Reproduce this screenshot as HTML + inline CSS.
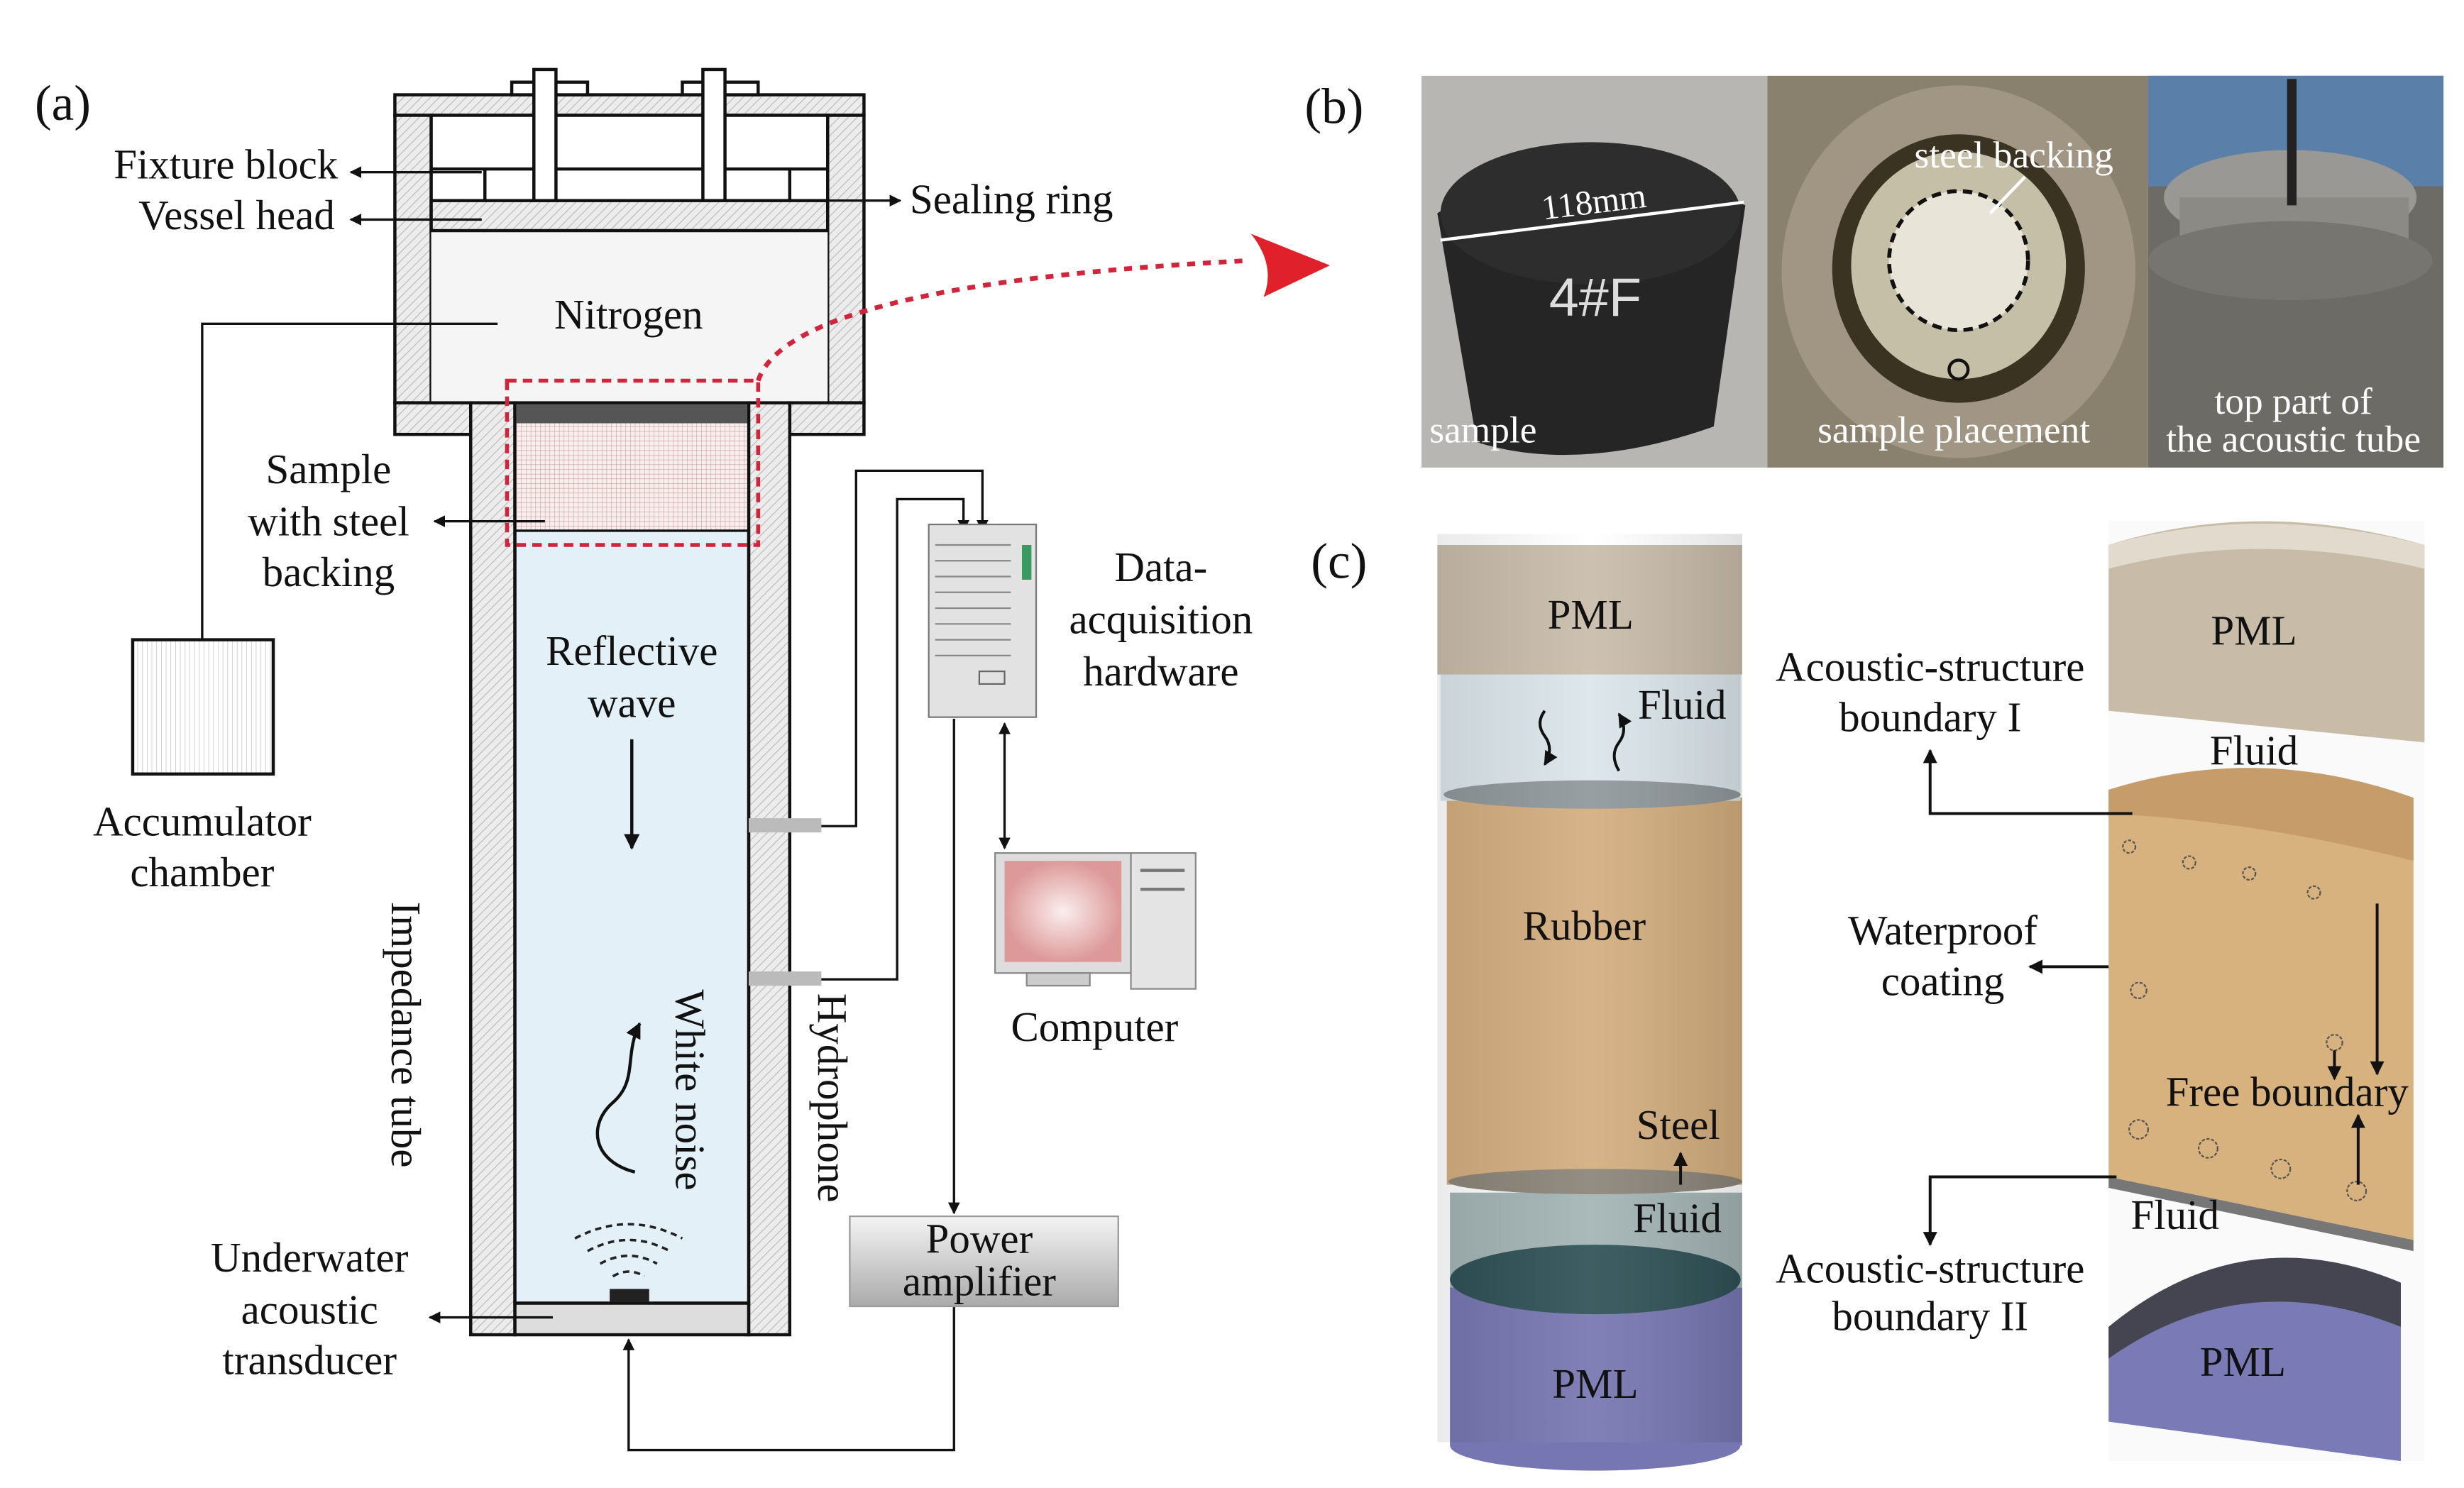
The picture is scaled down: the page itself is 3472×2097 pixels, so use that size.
<!DOCTYPE html>
<html><head><meta charset="utf-8"><style>
html,body{margin:0;padding:0;background:#fff}
svg{display:block}
text{font-family:"Liberation Serif",serif;fill:#111}
</style></head><body>
<svg width="3472" height="2097" viewBox="0 0 1560 942" preserveAspectRatio="none" xmlns="http://www.w3.org/2000/svg">
<defs>
<pattern id="h" width="4" height="4" patternUnits="userSpaceOnUse" patternTransform="rotate(45)">
<rect width="4" height="4" fill="#ececec"/><line x1="0" y1="0" x2="0" y2="4" stroke="#b8b8b8" stroke-width="1"/></pattern>
<pattern id="g" width="3" height="3" patternUnits="userSpaceOnUse">
<rect width="3" height="3" fill="#f7eeee"/><path d="M0 0H3M0 0V3" stroke="#c99" stroke-width="0.5"/></pattern>
<pattern id="v" width="3" height="3" patternUnits="userSpaceOnUse">
<rect width="3" height="3" fill="#fff"/><line x1="0" y1="0" x2="0" y2="3" stroke="#bbb" stroke-width="0.6"/></pattern>
<marker id="a" viewBox="0 0 10 10" refX="9" refY="5" markerWidth="5" markerHeight="5" orient="auto-start-reverse"><path d="M0 0L10 5L0 10z" fill="#111"/></marker>
<linearGradient id="pa" x1="0" y1="0" x2="0" y2="1"><stop offset="0" stop-color="#f4f4f4"/><stop offset="1" stop-color="#aaa"/></linearGradient>
<radialGradient id="mon"><stop offset="0" stop-color="#fbeeee"/><stop offset="1" stop-color="#d99"/></radialGradient>
<linearGradient id="cyl" x1="0" x2="1"><stop offset="0" stop-color="#000" stop-opacity=".08"/><stop offset=".5" stop-color="#fff" stop-opacity=".08"/><stop offset="1" stop-color="#000" stop-opacity=".12"/></linearGradient>
</defs>

<g font-size="26.5">
<!-- Panel a -->
<text x="22" y="76" font-size="32">(a)</text>
<rect x="250" y="60" width="297" height="13" fill="url(#h)" stroke="#111" stroke-width="2"/>
<rect x="250" y="73" width="23" height="182" fill="url(#h)" stroke="#111" stroke-width="2"/>
<rect x="524" y="73" width="23" height="182" fill="url(#h)" stroke="#111" stroke-width="2"/>
<rect x="273" y="73" width="251" height="182" fill="#fff" stroke="#111" stroke-width="2"/>
<rect x="273" y="146" width="251" height="109" fill="#f5f5f5"/>
<rect x="273" y="127" width="251" height="19" fill="url(#h)" stroke="#111" stroke-width="2"/>
<line x1="273" y1="107" x2="524" y2="107" stroke="#111" stroke-width="2"/>
<line x1="307" y1="107" x2="307" y2="127" stroke="#111" stroke-width="2"/>
<line x1="500" y1="107" x2="500" y2="127" stroke="#111" stroke-width="2"/>
<rect x="250" y="255" width="48" height="20" fill="url(#h)" stroke="#111" stroke-width="2"/>
<rect x="500" y="255" width="47" height="20" fill="url(#h)" stroke="#111" stroke-width="2"/>
<g fill="#fff" stroke="#111" stroke-width="2">
<rect x="324" y="52" width="48" height="8"/><rect x="338" y="44" width="14" height="83"/>
<rect x="432" y="52" width="48" height="8"/><rect x="445" y="44" width="14" height="83"/>
</g>
<text x="398" y="208" text-anchor="middle">Nitrogen</text>
<rect x="298" y="255" width="28" height="590" fill="url(#h)" stroke="#111" stroke-width="2"/>
<rect x="474" y="255" width="26" height="590" fill="url(#h)" stroke="#111" stroke-width="2"/>
<rect x="326" y="255" width="148" height="570" fill="#e4f0f7" stroke="#111" stroke-width="2"/>
<rect x="327" y="256" width="146" height="12" fill="#555"/>
<rect x="327" y="268" width="146" height="68" fill="url(#g)"/>
<line x1="326" y1="336" x2="474" y2="336" stroke="#111" stroke-width="1.5"/>
<rect x="326" y="825" width="148" height="20" fill="#ddd" stroke="#111" stroke-width="2"/>
<rect x="386" y="816" width="25" height="8" fill="#222"/>
<g fill="none" stroke="#222" stroke-width="1.6" stroke-dasharray="4 3">
<path d="M388 808 Q398 802 408 808"/><path d="M380 800 Q398 790 416 800"/><path d="M372 792 Q398 778 424 792"/><path d="M364 784 Q398 766 432 784"/>
</g>
<rect x="321" y="241" width="159" height="104" fill="none" stroke="#d0253a" stroke-width="2.5" stroke-dasharray="6 4"/>
<path d="M480 241 Q500 180 790 165" fill="none" stroke="#d0253a" stroke-width="3" stroke-dasharray="5 5"/>
<path d="M792 148 L842 168 L800 188 Q808 168 792 148z" fill="#e0202a"/>
<text x="400" y="421" text-anchor="middle">Reflective</text>
<text x="400" y="454" text-anchor="middle">wave</text>
<line x1="400" y1="468" x2="400" y2="537" stroke="#111" stroke-width="2" marker-end="url(#a)"/>
<path d="M402 742 C375 735 372 712 388 698 C404 684 395 668 405 648" fill="none" stroke="#111" stroke-width="2" marker-end="url(#a)"/>
<text transform="translate(428,690) rotate(90)" text-anchor="middle">White noise</text>
<text transform="translate(248,655) rotate(90)" text-anchor="middle">Impedance tube</text>
<text transform="translate(518,695) rotate(90)" text-anchor="middle">Hydrophone</text>
<rect x="474" y="518" width="46" height="9" fill="#bbb"/>
<rect x="474" y="615" width="46" height="9" fill="#bbb"/>
<g fill="none" stroke="#111" stroke-width="1.5">
<polyline points="520,523 542,523 542,298 622,298 622,336" marker-end="url(#a)"/>
<polyline points="520,620 568,620 568,316 610,316 610,336" marker-end="url(#a)"/>
<line x1="604" y1="455" x2="604" y2="768" marker-end="url(#a)"/>
<line x1="636" y1="458" x2="636" y2="537" marker-start="url(#a)" marker-end="url(#a)"/>
<polyline points="604,827 604,918 398,918 398,848" marker-end="url(#a)"/>
<polyline points="315,205 128,205 128,405"/>
</g>
<rect x="588" y="332" width="68" height="122" fill="#e2e2e2" stroke="#777"/>
<g stroke="#888" stroke-width="1">
<line x1="592" y1="345" x2="640" y2="345"/><line x1="592" y1="355" x2="640" y2="355"/><line x1="592" y1="365" x2="640" y2="365"/><line x1="592" y1="375" x2="640" y2="375"/><line x1="592" y1="385" x2="640" y2="385"/><line x1="592" y1="395" x2="640" y2="395"/><line x1="592" y1="405" x2="640" y2="405"/><line x1="592" y1="415" x2="640" y2="415"/>
</g>
<rect x="647" y="345" width="6" height="22" fill="#3a9a60"/>
<rect x="620" y="425" width="16" height="8" fill="none" stroke="#666"/>
<text x="735" y="368" text-anchor="middle">Data-</text>
<text x="735" y="401" text-anchor="middle">acquisition</text>
<text x="735" y="434" text-anchor="middle">hardware</text>
<rect x="630" y="540" width="86" height="76" fill="#ddd" stroke="#888"/>
<rect x="636" y="545" width="74" height="64" fill="url(#mon)"/>
<rect x="650" y="616" width="40" height="8" fill="#ccc" stroke="#888"/>
<rect x="716" y="540" width="41" height="86" fill="#e4e4e4" stroke="#888"/>
<line x1="722" y1="551" x2="750" y2="551" stroke="#777" stroke-width="2"/>
<line x1="722" y1="563" x2="750" y2="563" stroke="#777" stroke-width="2"/>
<text x="693" y="659" text-anchor="middle">Computer</text>
<rect x="538" y="770" width="170" height="57" fill="url(#pa)" stroke="#999"/>
<text x="620" y="793" text-anchor="middle">Power</text>
<text x="620" y="820" text-anchor="middle">amplifier</text>
<rect x="84" y="405" width="89" height="85" fill="url(#v)" stroke="#111" stroke-width="2"/>
<text x="128" y="529" text-anchor="middle">Accumulator</text>
<text x="128" y="561" text-anchor="middle">chamber</text>
<g stroke="#111" stroke-width="1.5">
<line x1="305" y1="109" x2="222" y2="109" marker-end="url(#a)"/>
<line x1="305" y1="139" x2="222" y2="139" marker-end="url(#a)"/>
<line x1="524" y1="127" x2="570" y2="127" marker-end="url(#a)"/>
<line x1="345" y1="330" x2="275" y2="330" marker-end="url(#a)"/>
<line x1="350" y1="834" x2="272" y2="834" marker-end="url(#a)"/>
</g>
<text x="214" y="113" text-anchor="end">Fixture block</text>
<text x="212" y="145" text-anchor="end">Vessel head</text>
<text x="576" y="135">Sealing ring</text>
<text x="208" y="306" text-anchor="middle">Sample</text>
<text x="208" y="339" text-anchor="middle">with steel</text>
<text x="208" y="371" text-anchor="middle">backing</text>
<text x="196" y="805" text-anchor="middle">Underwater</text>
<text x="196" y="838" text-anchor="middle">acoustic</text>
<text x="196" y="870" text-anchor="middle">transducer</text>

<!-- Panel b -->
<text x="826" y="78" font-size="32">(b)</text>
<rect x="900" y="48" width="219" height="248" fill="#b8b6b3"/>
<path d="M910 135 Q1000 80 1105 130 L1085 270 Q1000 300 935 280z" fill="#252525"/>
<ellipse cx="1007" cy="135" rx="95" ry="45" fill="#2d2d2d"/>
<line x1="912" y1="152" x2="1104" y2="128" stroke="#fff" stroke-width="2"/>
<text x="1010" y="135" font-size="22" style="fill:#fff" text-anchor="middle" transform="rotate(-7 1010 135)">118mm</text>
<text x="1010" y="200" font-size="34" style="fill:#ddd;font-family:'Liberation Sans',sans-serif" text-anchor="middle">4#F</text>
<text x="905" y="280" font-size="24" style="fill:#fff">sample</text>
<rect x="1119" y="48" width="241" height="248" fill="#8a806e"/>
<ellipse cx="1240" cy="172" rx="112" ry="118" fill="#a09683"/>
<ellipse cx="1240" cy="170" rx="80" ry="85" fill="#3b3322"/>
<ellipse cx="1240" cy="168" rx="68" ry="72" fill="#c6bfa8"/>
<circle cx="1240" cy="165" r="44" fill="#e8e4d8" stroke="#111" stroke-width="2.5" stroke-dasharray="6 4"/>
<circle cx="1240" cy="234" r="6" fill="none" stroke="#111" stroke-width="2"/>
<text x="1275" y="106" font-size="24" style="fill:#fff" text-anchor="middle">steel backing</text>
<line x1="1260" y1="135" x2="1282" y2="112" stroke="#fff" stroke-width="2"/>
<text x="1237" y="280" font-size="24" style="fill:#fff" text-anchor="middle">sample placement</text>
<rect x="1360" y="48" width="187" height="248" fill="#6d6b66"/>
<rect x="1360" y="48" width="187" height="70" fill="#5a7fa8"/>
<ellipse cx="1450" cy="125" rx="80" ry="30" fill="#9a9894"/>
<rect x="1380" y="125" width="145" height="40" fill="#8c8a85"/>
<ellipse cx="1450" cy="165" rx="90" ry="25" fill="#777570"/>
<rect x="1448" y="50" width="6" height="80" fill="#222"/>
<text x="1452" y="262" font-size="24" style="fill:#fff" text-anchor="middle">top part of</text>
<text x="1452" y="286" font-size="24" style="fill:#fff" text-anchor="middle">the acoustic tube</text>

<!-- Panel c -->
<text x="830" y="366" font-size="32">(c)</text>
<rect x="918" y="815" width="185" height="100" fill="#7676b2"/>
<ellipse cx="1010" cy="915" rx="92" ry="16" fill="#7676b2"/>
<rect x="918" y="755" width="185" height="60" fill="#a3b3b3"/>
<ellipse cx="1010" cy="810" rx="92" ry="22" fill="#2e5055"/>
<rect x="916" y="505" width="187" height="245" fill="#d3ad7e"/>
<ellipse cx="1010" cy="748" rx="93" ry="8" fill="#8a8478"/>
<rect x="912" y="425" width="190" height="82" fill="#dbe5ea"/>
<ellipse cx="1008" cy="503" rx="94" ry="9" fill="#8f979a"/>
<rect x="910" y="345" width="193" height="82" fill="#c8bca9"/>
<rect x="910" y="338" width="193" height="575" fill="url(#cyl)"/>
<text x="1007" y="398" text-anchor="middle">PML</text>
<text x="1037" y="455">Fluid</text>
<path d="M978 450 q-6 8 0 16 q6 8 0 18" fill="none" stroke="#111" stroke-width="1.8" marker-end="url(#a)"/>
<path d="M1025 488 q-6 -10 0 -18 q6 -8 0 -18" fill="none" stroke="#111" stroke-width="1.8" marker-end="url(#a)"/>
<text x="1003" y="595" text-anchor="middle">Rubber</text>
<text x="1036" y="721">Steel</text>
<line x1="1064" y1="750" x2="1064" y2="730" stroke="#111" stroke-width="1.8" marker-end="url(#a)"/>
<text x="1034" y="780">Fluid</text>
<text x="1010" y="885" text-anchor="middle">PML</text>
<rect x="1335" y="330" width="200" height="595" fill="#fafafa"/>
<path d="M1335 840 Q1420 770 1520 812 L1520 925 L1335 900z" fill="#7a7ab6"/>
<path d="M1335 840 Q1420 770 1520 812 L1520 840 Q1420 800 1335 860z" fill="#454552"/>
<path d="M1335 500 Q1430 470 1528 505 L1528 785 L1335 745z" fill="#d8b27e"/>
<path d="M1335 500 Q1430 470 1528 505 L1528 545 Q1430 520 1335 515z" fill="#c59c6a"/>
<path d="M1335 745 L1528 785 L1528 792 L1335 752z" fill="#777"/>
<path d="M1335 345 Q1430 315 1535 345 L1535 470 L1335 450z" fill="#c8bca9"/>
<path d="M1335 345 Q1430 318 1535 345 L1535 360 Q1430 335 1335 360z" fill="#e2dbcd"/>
<text x="1427" y="408" text-anchor="middle">PML</text>
<text x="1427" y="484" text-anchor="middle">Fluid</text>
<text x="1377" y="778" text-anchor="middle">Fluid</text>
<text x="1420" y="871" text-anchor="middle">PML</text>
<g fill="none" stroke="#555" stroke-width="1" stroke-dasharray="2 1">
<circle cx="1348" cy="536" r="4"/><circle cx="1386" cy="546" r="4"/><circle cx="1424" cy="553" r="4"/><circle cx="1465" cy="565" r="4"/><circle cx="1354" cy="627" r="5"/><circle cx="1478" cy="660" r="5"/>
<circle cx="1354" cy="715" r="6"/><circle cx="1398" cy="727" r="6"/><circle cx="1444" cy="740" r="6"/><circle cx="1492" cy="754" r="6"/>
</g>
<text x="1448" y="700" text-anchor="middle">Free boundary</text>
<g stroke="#111" stroke-width="1.8" fill="none">
<line x1="1505" y1="572" x2="1505" y2="680" marker-end="url(#a)"/>
<line x1="1493" y1="750" x2="1493" y2="706" marker-end="url(#a)"/>
<line x1="1478" y1="665" x2="1478" y2="683" marker-end="url(#a)"/>
<polyline points="1350,515 1222,515 1222,475" marker-end="url(#a)"/>
<line x1="1335" y1="612" x2="1285" y2="612" marker-end="url(#a)"/>
<polyline points="1340,745 1222,745 1222,788" marker-end="url(#a)"/>
</g>
<text x="1222" y="431" text-anchor="middle">Acoustic-structure</text>
<text x="1222" y="463" text-anchor="middle">boundary I</text>
<text x="1230" y="598" text-anchor="middle">Waterproof</text>
<text x="1230" y="630" text-anchor="middle">coating</text>
<text x="1222" y="812" text-anchor="middle">Acoustic-structure</text>
<text x="1222" y="842" text-anchor="middle">boundary II</text>
</g>
</svg>
</body></html>
